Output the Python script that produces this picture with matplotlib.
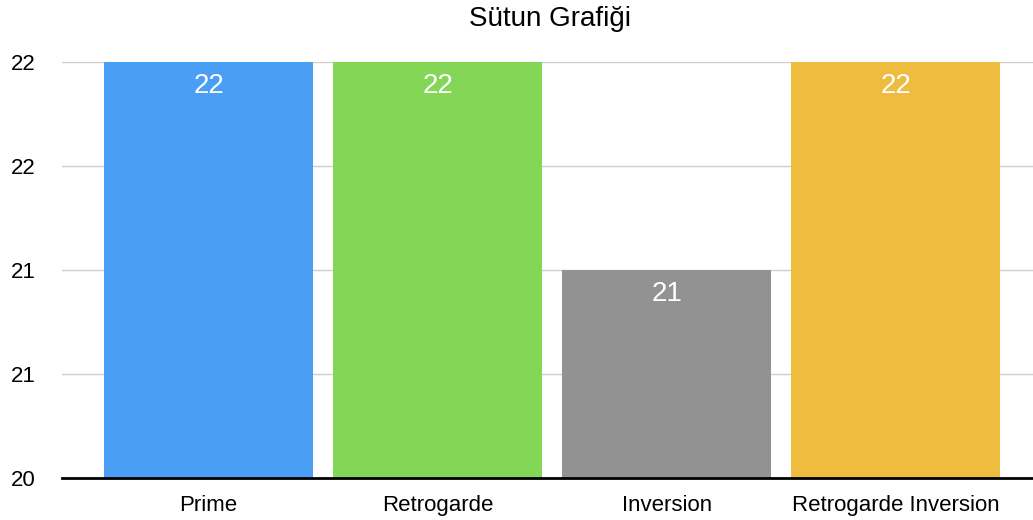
import matplotlib
matplotlib.use("Agg")
import matplotlib.pyplot as plt
from matplotlib.ticker import FixedLocator, FixedFormatter

plt.rcParams['font.family'] = ['Liberation Sans', 'DejaVu Sans']

# Chart data
categories = ['Prime', 'Retrogarde', 'Inversion', 'Retrogarde Inversion']
values = [22, 22, 21, 22]
value_labels = ['22', '22', '21', '22']
colors = ['#4A9FF5', '#84D656', '#929292', '#EEBD40']
ytick_values = [20, 20.5, 21, 21.5, 22]
ytick_labels = ['20', '21', '21', '22', '22']

fig = plt.figure(figsize=(10.33, 5.2), dpi=100)
ax = fig.add_axes([62 / 1033, 1 - 478 / 520, 1 - 62 / 1033, 416 / 520])

x = list(range(len(categories)))
bars = ax.bar(x, values, width=0.91, color=colors, zorder=2)

ax.set_ylim(20, 22)
ax.set_xlim(-0.64, 3.6)

ax.yaxis.set_major_locator(FixedLocator(ytick_values))
ax.yaxis.set_major_formatter(FixedFormatter(ytick_labels))
ax.set_xticks(x)
ax.set_xticklabels(categories, fontsize=16)
ax.tick_params(axis='y', length=0, labelsize=16, pad=37)
ax.tick_params(axis='x', length=0, pad=12)
for lab in ax.get_yticklabels():
    lab.set_horizontalalignment('left')

ax.grid(axis='y', color='#CFCFCF', linewidth=1, zorder=0)
for side in ['top', 'right', 'left']:
    ax.spines[side].set_visible(False)
ax.spines['bottom'].set_color('black')
ax.spines['bottom'].set_linewidth(2)
ax.spines['bottom'].set_zorder(3)

for b, lab in zip(bars, value_labels):
    ax.annotate(lab, (b.get_x() + b.get_width() / 2, b.get_height()),
                xytext=(0, -17), textcoords='offset points',
                ha='center', va='center', color='white', fontsize=20)

# title centred over the plot area, not the whole figure
fig.text(550 / 1033, 1 - 19 / 520, 'Sütun Grafiği', ha='center', va='center', fontsize=20)

fig.savefig('out.png', dpi=100)
